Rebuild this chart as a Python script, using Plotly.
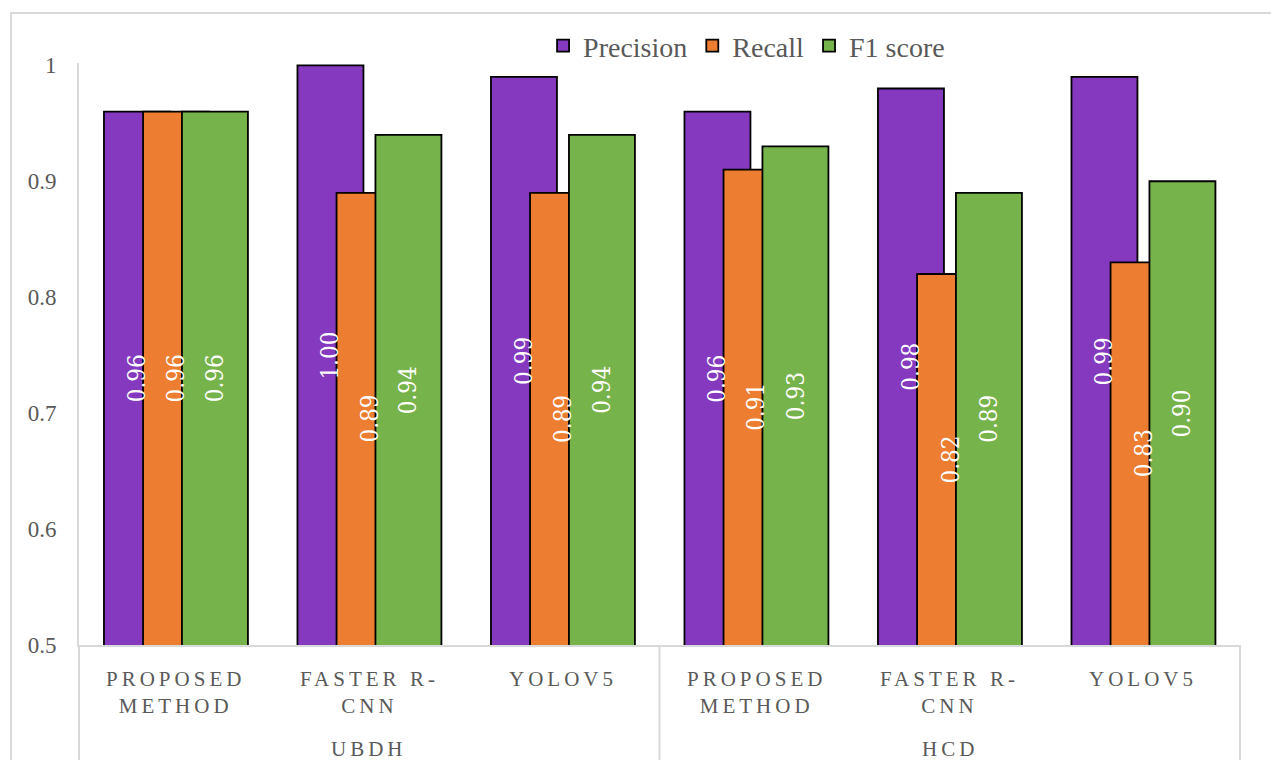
import plotly.graph_objects as go

methods = ["PROPOSED<br>METHOD", "FASTER R-<br>CNN", "YOLOV5",
           "PROPOSED<br>METHOD", "FASTER R-<br>CNN", "YOLOV5"]
datasets = ["UBDH", "HCD"]
precision = [0.96, 1.00, 0.99, 0.96, 0.98, 0.99]
recall = [0.96, 0.89, 0.89, 0.91, 0.82, 0.83]
f1 = [0.96, 0.94, 0.94, 0.93, 0.89, 0.90]
y_ticks = [0.5, 0.6, 0.7, 0.8, 0.9, 1.0]
y_tick_text = ["0.5", "0.6", "0.7", "0.8", "0.9", "1"]

FONT = "Liberation Serif"
LABEL_FONT = "DejaVu Serif Condensed, DejaVu Serif, Liberation Serif"
GREY = "#595959"
LINE = "#d9d9d9"
colors = ["#8439BE", "#ED7D31", "#77B34B"]
names = ["Precision", "Recall", "F1 score"]
series = [precision, recall, f1]

W = 0.341
offsets = [-0.371, -0.169, 0.032]

xs = list(range(len(methods)))
fig = go.Figure()
for name, vals, col, off in zip(names, series, colors, offsets):
    fig.add_trace(go.Bar(
        x=xs, y=vals, name=name, width=W, offset=off,
        marker=dict(color=col, line=dict(color="black", width=1.8)),
    ))

annotations = []
for vals, off in zip(series, offsets):
    for i, v in enumerate(vals):
        annotations.append(dict(
            x=i + off + W / 2, y=(0.5 + v) / 2, xref="x", yref="y",
            text=f"{v:.2f}", textangle=-90, showarrow=False,
            font=dict(family=LABEL_FONT, size=24, color="white"),
        ))

def spaced(t, ls=4):
    return "<br>".join(f'<span style="letter-spacing:{ls}px">{p}</span>' for p in t.split("<br>"))

for i, m in enumerate(methods):
    annotations.append(dict(
        x=i, y=0, xref="x", yref="paper", yanchor="top", yshift=-20,
        text=spaced(m), showarrow=False,
        font=dict(family=FONT, size=21, color=GREY),
    ))
for j, d in enumerate(datasets):
    annotations.append(dict(
        x=1 + 3 * j, y=0, xref="x", yref="paper", yanchor="middle", yshift=-104,
        text=spaced(d), showarrow=False,
        font=dict(family=FONT, size=21, color=GREY),
    ))

ph = 582.0
shapes = [
    dict(type="line", xref="paper", yref="paper", x0=0, x1=0, y0=0, y1=-115 / ph,
         line=dict(color=LINE, width=2)),
    dict(type="line", xref="paper", yref="paper", x0=0.5, x1=0.5, y0=0, y1=-115 / ph,
         line=dict(color=LINE, width=2)),
    dict(type="line", xref="paper", yref="paper", x0=1, x1=1, y0=0, y1=-115 / ph,
         line=dict(color=LINE, width=2)),
    dict(type="rect", xref="paper", yref="paper",
         x0=(11 - 79) / 1161, x1=(1300 - 79) / 1161,
         y0=-200 / ph, y1=1 + (63 - 13) / ph,
         line=dict(color=LINE, width=2), fillcolor="rgba(0,0,0,0)", layer="below"),
]

fig.update_layout(
    width=1271, height=760,
    margin=dict(l=79, r=31, t=63, b=115),
    barmode="overlay",
    plot_bgcolor="white", paper_bgcolor="white",
    font=dict(family=FONT, color=GREY),
    xaxis=dict(range=[-0.5, 5.5], showticklabels=False, showgrid=False, zeroline=False,
               showline=True, linecolor=LINE, linewidth=2, ticks=""),
    yaxis=dict(range=[0.5, 1.002], tickvals=y_ticks, ticktext=y_tick_text,
               showgrid=False, zeroline=False, showline=True, linecolor=LINE, linewidth=2,
               ticks="", ticklabelstandoff=16, tickfont=dict(family=FONT, size=23, color=GREY)),
    legend=dict(orientation="h", x=0.575, xanchor="center", y=1 + (645 - 46 - 582) / ph,
                yanchor="middle", font=dict(family=FONT, size=28, color=GREY),
                bgcolor="rgba(0,0,0,0)"),
    annotations=annotations,
    shapes=shapes,
    showlegend=True,
)

fig.write_html("out.html")
